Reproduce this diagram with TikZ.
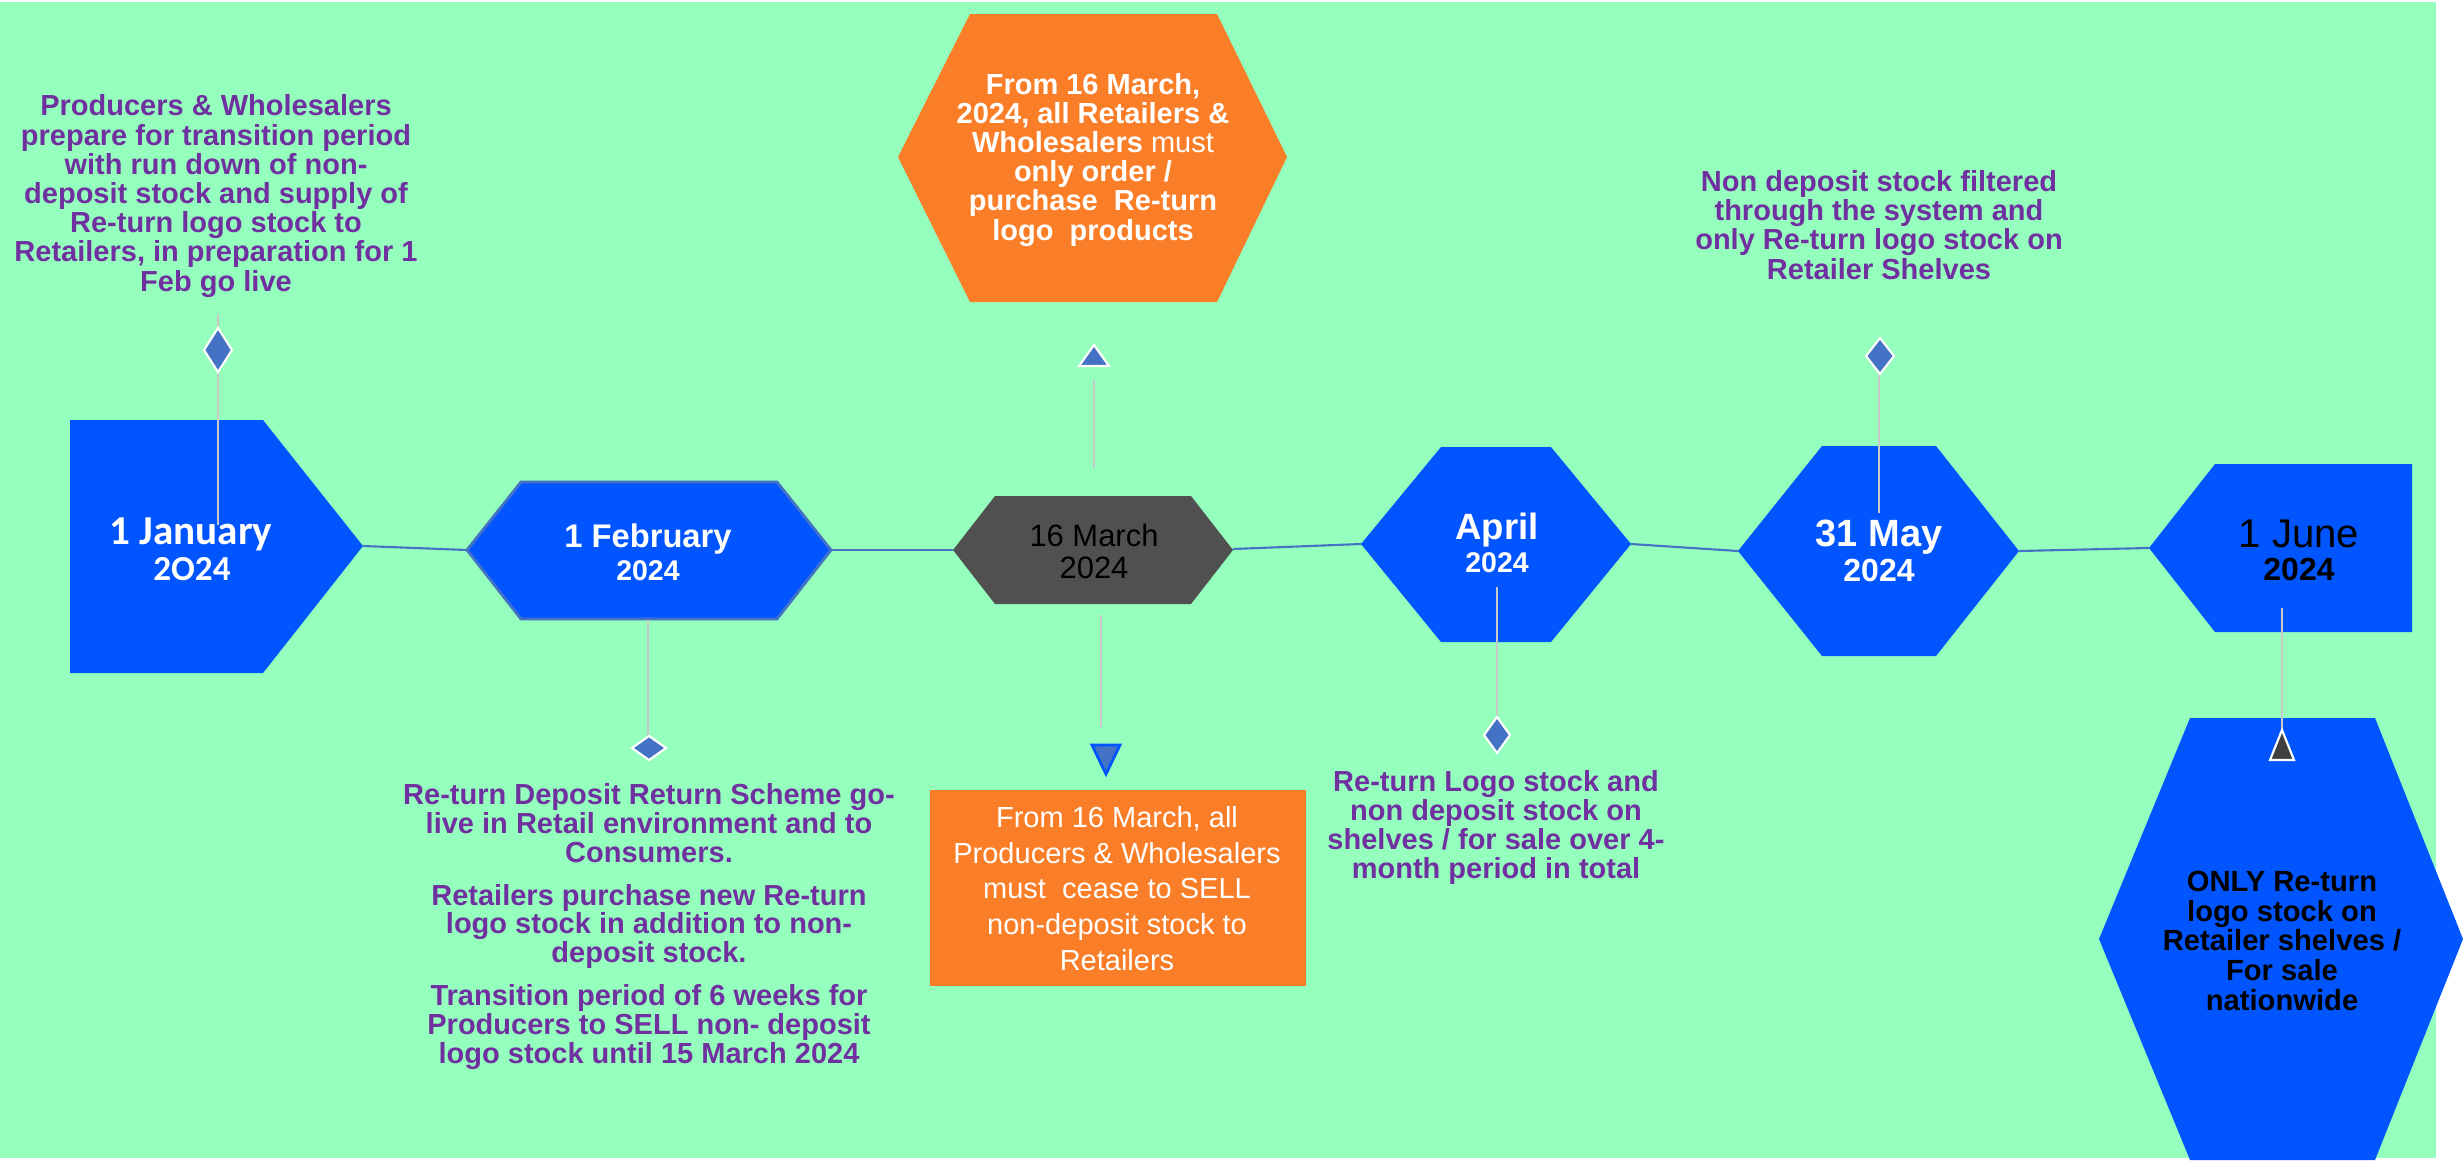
\documentclass[tikz,border=0pt]{standalone}
\usepackage{fontspec}
\setmainfont{Liberation Sans}
\newfontfamily\calfont{Carlito}
\definecolor{bggreen}{RGB}{149,255,189}
\definecolor{tlblue}{RGB}{0,85,255}
\definecolor{tlpurple}{RGB}{112,48,160}
\definecolor{tlorange}{RGB}{250,126,40}
\definecolor{tlgray}{RGB}{80,80,80}
\definecolor{linkblue}{RGB}{68,114,196}
\definecolor{stalkgray}{RGB}{200,200,200}
\definecolor{markdark}{RGB}{64,64,64}
\begin{document}
\begin{tikzpicture}[x=0.01cm,y=-0.01cm,
  link/.style={draw=linkblue, line width=0.6pt},
  stalk/.style={draw=stalkgray, line width=0.45pt},
  marker/.style={fill=linkblue, draw=white, line width=0.6pt},
  note/.style={text=tlpurple, font=\fontsize{8.25}{8.3}\selectfont\bfseries, align=center, inner sep=0pt, anchor=base},
  datelbl/.style={inner sep=0pt, anchor=base}
]
\useasboundingbox (0,0) rectangle (2463,1160);
\fill[bggreen] (0,2) rectangle (2436,1158);

% timeline points
\coordinate (janR) at (363,546);
\coordinate (febL) at (467,550);
\coordinate (febR) at (831,550);
\coordinate (marL) at (953,550);
\coordinate (marR) at (1233,549);
\coordinate (aprL) at (1361,544);
\coordinate (aprR) at (1631,544);
\coordinate (mayL) at (1738,551);
\coordinate (mayR) at (2019,551);
\coordinate (junL) at (2149,548);

% connectors
\draw[link] (janR) -- (febL);
\draw[link] (febR) -- (marL);
\draw[link] (marR) -- (aprL);
\draw[link] (aprR) -- (mayL);
\draw[link] (mayR) -- (junL);

% date shapes
\fill[tlblue] (70,420) -- (263,420) -- (janR) -- (263,673) -- (70,673) -- cycle;
\filldraw[fill=tlblue, draw=linkblue, line width=0.8pt] (febL) -- (521,482) -- (777,482) -- (febR) -- (777,619) -- (521,619) -- cycle;
\fill[tlgray] (marL) -- (995,496) -- (1191,496) -- (1233,550) -- (1191,604) -- (995,604) -- cycle;
\fill[tlblue] (aprL) -- (1441,447) -- (1551,447) -- (aprR) -- (1551,642) -- (1441,642) -- cycle;
\fill[tlblue] (mayL) -- (1822,446) -- (1936,446) -- (mayR) -- (1936,656) -- (1822,656) -- cycle;
\fill[tlblue] (junL) -- (2215,464) -- (2412,464) -- (2412,632) -- (2215,632) -- cycle;

% event shapes
\fill[tlorange] (898,157) -- (970,14) -- (1217,14) -- (1287,157) -- (1217,302) -- (970,302) -- cycle;
\fill[tlorange] (930,790) rectangle (1306,986);
\fill[tlblue] (2099,939) -- (2190,718) -- (2375,718) -- (2463,939) -- (2375,1160) -- (2190,1160) -- cycle;

% stalks
\coordinate (janS1) at (218,315);  \coordinate (janS2) at (218,525);
\coordinate (febS1) at (648,620);  \coordinate (febS2) at (648,737);
\coordinate (marU1) at (1094,468); \coordinate (marU2) at (1094,380);
\coordinate (marD1) at (1101,615); \coordinate (marD2) at (1101,727);
\coordinate (aprS1) at (1497,587); \coordinate (aprS2) at (1497,717);
\coordinate (mayS1) at (1879,513); \coordinate (mayS2) at (1879,374);
\coordinate (junS1) at (2282,608); \coordinate (junS2) at (2282,730);
\draw[stalk] (janS1) -- (janS2);
\draw[stalk] (febS1) -- (febS2);
\draw[stalk] (marU1) -- (marU2);
\draw[stalk] (marD1) -- (marD2);
\draw[stalk] (aprS1) -- (aprS2);
\draw[stalk] (mayS1) -- (mayS2);
\draw[stalk] (junS1) -- (junS2);

% markers
\draw[marker] (218,328) -- (232,350) -- (218,372) -- (204,350) -- cycle;
\draw[marker] (649,736) -- (666,748) -- (649,760) -- (632,748) -- cycle;
\draw[marker] (1094,345) -- (1109,366) -- (1079,366) -- cycle;
\draw[fill=linkblue, draw=tlblue, line width=0.8pt] (1092,745) -- (1120,745) -- (1106,774) -- cycle;
\draw[marker] (1497,717) -- (1510,735) -- (1497,753) -- (1484,735) -- cycle;
\draw[marker] (1880,338) -- (1894,356) -- (1880,374) -- (1866,356) -- cycle;
\draw[fill=markdark, draw=white, line width=0.6pt] (2282,730) -- (2294,760) -- (2270,760) -- cycle;

% date labels
\node[datelbl, text=white, font=\calfont\bfseries\fontsize{11.7}{12}\selectfont] (janT) at (191,544) {1 January};
\node[datelbl, text=white, font=\calfont\bfseries\fontsize{10}{12}\selectfont] (janY) at (192,580) {2O24};
\node[datelbl, text=white, font=\bfseries\fontsize{9.3}{11}\selectfont] (febT) at (648,547) {1 February};
\node[datelbl, text=white, font=\bfseries\fontsize{8.1}{10}\selectfont] (febY) at (648,580) {2024};
\node[datelbl, text=black, font=\fontsize{8.8}{10}\selectfont] (marT) at (1094,546) {16 March};
\node[datelbl, text=black, font=\fontsize{8.8}{10}\selectfont] (marY) at (1094,578) {2024};
\node[datelbl, text=white, font=\bfseries\fontsize{10.4}{12}\selectfont] (aprT) at (1497,539) {April};
\node[datelbl, text=white, font=\bfseries\fontsize{8.1}{10}\selectfont] (aprY) at (1497,572) {2024};
\node[datelbl, text=white, font=\bfseries\fontsize{10.8}{12}\selectfont] (mayT) at (1879,546) {31 May};
\node[datelbl, text=white, font=\bfseries\fontsize{9.1}{11}\selectfont] (mayY) at (1879,581) {2024};
\node[datelbl, text=black, font=\fontsize{11.4}{13}\selectfont] (junT) at (2299,547) {1 June};
\node[datelbl, text=black, font=\bfseries\fontsize{9.1}{11}\selectfont] (junY) at (2299,580) {2024};

% notes (anchored at the baseline of their last line)
\node[note] (janN) at (216,291) {Producers \& Wholesalers\\prepare for transition period\\with run down of non-\\deposit stock and supply of\\Re-turn logo stock to\\Retailers, in preparation for 1\\Feb go live};
\node[note, font=\fontsize{8.25}{8.15}\selectfont\bfseries] (febN) at (649,1063) {Re-turn Deposit Return Scheme go-\\live in Retail environment and to\\Consumers.\\[4.1pt]Retailers purchase new Re-turn\\logo stock in addition to non-\\deposit stock.\\[4.1pt]Transition period of 6 weeks for\\Producers to SELL non- deposit\\logo stock until 15 March 2024};
\node[note, text=white] (marN1) at (1093,240) {From 16 March,\\2024, all Retailers \&\\Wholesalers {\mdseries must}\\only order /\\purchase\ \ Re-turn\\logo\ \ products};
\node[note, text=white, font=\fontsize{8.25}{10.1}\selectfont] (marN2) at (1117,970) {From 16 March, all\\Producers \& Wholesalers\\must\ \ cease to SELL\\non-deposit stock to\\Retailers};
\node[note, font=\fontsize{8.25}{8.2}\selectfont\bfseries] (aprN) at (1496,878) {Re-turn Logo stock and\\non deposit stock on\\shelves / for sale over 4-\\month period in total};
\node[note] (mayN) at (1879,279) {Non deposit stock filtered\\through the system and\\only Re-turn logo stock on\\Retailer Shelves};
\node[note, text=black, font=\fontsize{8.3}{8.4}\selectfont\bfseries] (junN) at (2282,1010) {ONLY Re-turn\\logo stock on\\Retailer shelves /\\For sale\\nationwide};
\end{tikzpicture}
\end{document}
